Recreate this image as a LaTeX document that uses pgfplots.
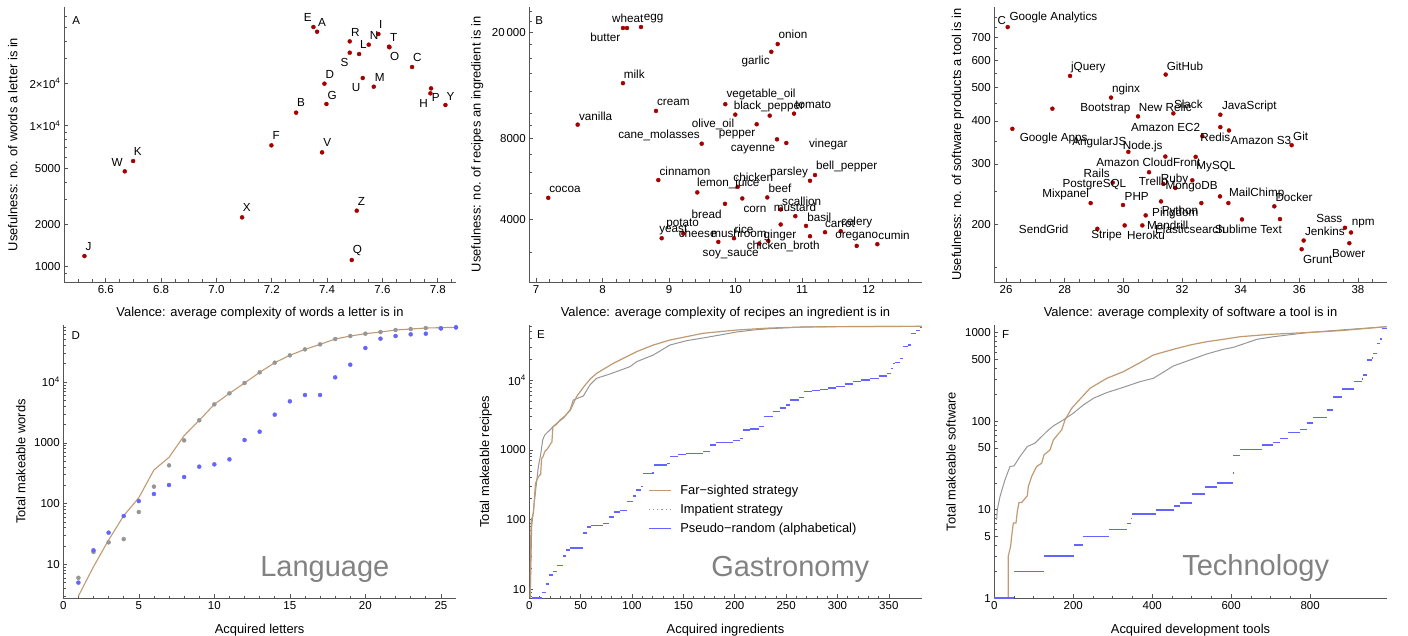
\documentclass[border=0pt]{standalone}
\usepackage{fontspec}
\setmainfont{Liberation Sans}
\usepackage{pgfplots}
\usepackage{pgfplotstable}
\pgfplotsset{compat=1.18}

\definecolor{dotred}{RGB}{165,0,0}
\definecolor{farc}{RGB}{192,154,114}
\definecolor{impc}{RGB}{150,150,150}
\definecolor{rndc}{RGB}{100,100,255}
\definecolor{axc}{RGB}{85,85,85}
\definecolor{wmc}{RGB}{130,130,130}

\newcommand\tickfont{\fontsize{11.5}{13}\selectfont}
\newcommand\labfont{\fontsize{12.9}{14.5}\selectfont}
\newcommand\ptfont{\fontsize{11.7}{13}\selectfont}
\newcommand\wmfont{\fontsize{29}{32}\selectfont}

% ---- A: letters (valence, usefulness, label offset in pt)
\pgfplotstableread{
x y dx dy label
7.3506 50100 -5.7 9.3 E
7.3639 46400 5.0 9.7 A
7.4819 39640 5.7 9.3 R
7.5855 44700 2.3 9.7 I
7.5506 37540 5.3 9.0 N
7.6241 36340 4.7 9.3 T
7.6253 36000 5.3 -9.7 O
7.5157 32240 4.3 9.3 L
7.4819 32940 -5.3 -10.0 S
7.7072 26070 5.3 9.3 C
7.3904 19860 5.3 9.0 D
7.5289 21780 -6.7 -9.7 U
7.5687 18900 6.0 9.0 M
7.3976 14250 5.7 9.0 G
7.7759 18400 4.7 -9.3 P
7.7735 16960 -6.7 -10.3 H
7.8277 14020 5.0 9.0 Y
7.2880 12370 5.0 9.7 B
7.1988 7252 4.7 10.0 F
7.3819 6470 5.3 9.7 V
6.6988 5616 4.7 9.3 K
6.6687 4745 -7.7 9.3 W
7.0928 2238 4.7 9.7 X
7.5072 2496 4.7 9.3 Z
6.5229 1190 4.0 9.3 J
7.4892 1115 5.7 9.3 Q
}\letters

% ---- B: ingredients
\pgfplotstableread{
x y dx dy label
8.3077 20770 -17.7 -9.4 butter
8.3678 20770 0.7 9.3 wheat
8.5782 20950 12.7 8.3 egg
10.633 18090 15.3 9.3 onion
10.5367 16925 -15.6 -10.0 garlic
8.3077 12915 11.3 9.3 milk
8.8037 10167 17.3 9.0 cream
9.8453 10772 35.7 9.3 vegetable\_oil
9.9956 9847 -22.3 -10.3 olive\_oil
10.5127 9762 -0.7 8.7 black\_pepper
10.878 9934 19.3 8.7 tomato
10.317 9064 -19.7 -10.0 pepper
10.6223 7962 -24.0 -10.7 cayenne
10.762 7712 42.0 -1.0 vinegar
9.4906 7666 -42.7 8.7 cane\_molasses
7.6268 9033 18.0 8.7 vanilla
7.1849 4808 16.7 8.7 cocoa
8.8383 5603 26.7 9.0 cinnamon
9.4245 5037 31.0 9.2 lemon\_juice
10.0317 5286 15.6 10.0 chicken
10.1008 4782 12.7 -11.0 corn
10.4766 4824 12.7 9.0 beef
9.8408 4564 -18.3 -10.3 bread
11.1185 5568 -21.0 8.0 parsley
11.1936 5850 31.7 9.0 bell\_pepper
10.678 4349 21.0 8.6 scallion
10.8975 4105 -0.3 8.7 mustard
11.0584 3775 13.3 9.0 basil
10.678 3821 -0.7 -10.7 ginger
11.1185 3453 -26.7 -10.0 chicken\_broth
11.344 3575 15.0 8.7 carrot
11.58 3606 16.0 8.7 celery
11.8204 3177 0.0 9.7 oregano
12.1301 3224 16.7 8.7 cumin
8.8894 3394 11.6 8.0 yeast
9.2141 3535 -0.6 9.3 potato
9.7402 3288 -20.6 8.4 cheese
9.9762 3394 5.0 5.3 mushroom
10.4917 3316 -24.3 11.7 rice
10.3564 3243 -28.6 -11.0 soy\_sauce
}\ingredients

% ---- C: development tools
\pgfplotstableread{
x y dx dy label
26.057 750.8 45.7 9.7 {Google Analytics}
28.182 541.2 18.3 8.7 jQuery
31.443 546.1 19.3 8.7 GitHub
29.580 467.9 15.0 8.3 nginx
27.580 434.5 53.0 -0.3 Bootstrap
26.216 379.7 41.3 -10.0 {Google Apps}
30.500 412.6 27.3 9.0 {New Relic}
31.705 421.0 15.0 9.3 Slack
33.307 417.3 29.0 8.7 JavaScript
33.307 384.0 -54.7 0.0 {Amazon EC2}
33.602 375.5 32.0 -10.3 {Amazon S3}
32.693 361.4 13.0 -0.7 Redis
35.739 340.2 9.0 9.0 Git
30.170 325.3 -29.0 9.0 AngularJS
31.432 315.3 -22.7 9.7 Node.js
32.466 314.6 -47.3 -6.0 {Amazon CloudFront}
33.295 241.4 -4.0 29.3 MySQL
33.580 230.8 28.3 9.3 MailChimp
30.875 283.8 -52.3 -0.7 Rails
29.636 264.7 -18.3 -2.0 PostgreSQL
32.352 268.9 -17.7 1.0 Ruby
31.364 262.4 -10.0 3.0 Trello
31.773 255.4 16.3 1.0 MongoDB
28.886 230.8 -25.0 9.0 Mixpanel
29.989 227.8 13.7 9.0 PHP
35.148 225.8 19.7 9.0 Docker
29.114 194.3 -53.7 -0.7 SendGrid
30.045 198.7 -18.0 -9.7 Stripe
30.648 198.7 3.7 -9.7 Heroku
30.761 212.5 22.0 -10.0 Mandrill
31.284 233.4 14.3 -11.7 Pingdom
32.659 230.8 -21.3 -8.3 Python
34.045 206.8 -52.0 -10.0 Elasticsearch
35.341 207.3 -31.7 -10.3 {Sublime Text}
37.557 195.6 -15.7 9.7 Sass
37.761 189.5 12.3 8.7 npm
36.148 179.6 21.3 9.3 Jenkins
36.080 169.4 16.0 -10.0 Grunt
37.705 176.4 -0.7 -10.7 Bower
}\tools

% ---- D: language
\pgfplotstableread{
n far imp rnd
1 3 6 5
2 9.15 16 17
3 25.1 23 33.2
4 63.2 26 62.4
5 125 72.6 110
6 357 190 143.7
7 577 426 202
8 1310 1098 273.6
9 2343 2343 404.8
10 4296 4296 442
11 6517 6517 534.4
12 9640 9640 1112
13 14440 14440 1525
14 20830 20830 2904
15 27510 27510 4814
16 34520 34520 6117
17 41730 41730 6117
18 51080 51080 11950
19 57230 57230 19310
20 62520 62520 36320
21 66590 66590 51720
22 71840 71840 57230
23 74620 74620 60950
24 77500 77500 62520
25 78480 76520 76520
26 79480 79480 79480
}\langdata

% ---- E: gastronomy
\pgfplotstableread{
n y
0.8 7.5
1 10
1.5 60
2 100
3 110
4 125
5 200
6 330
8 390
10 437
11 440
12 760
13 780
15 946
18 1057
21 1247
22 1300
23 2163
26 2300
30 2700
35 3100
40 3750
46 5830
52.6 7935
59 10330
65.5 12590
72 14380
81.8 17540
91.5 20690
104.5 25790
120.7 32140
137 37930
153 42360
169 47320
185.6 50020
201.8 52760
234 56340
266.7 58290
300 59000
382 59600
}\gasfar
\pgfplotstableread{
n y
1 8
2.3 79
5.5 214
8.8 577
11 847
13 1393
15 1641
20 1936
26.6 2413
33 2850
39.6 3750
42.8 5220
52.6 5960
59 8570
65.5 10690
78.5 12330
98 15700
104.5 18540
120.7 23100
137 32140
153 37080
169 40530
185.6 44740
201.8 49430
218 52760
234 55200
266.7 58290
300 59000
382 59600
}\gasimp
\pgfplotstableread{
n y
3 7.5
12 9
16 12
19 16
23 18
27 22
33 30
36 37
40 39
52 64
56 79
60 82
72 88
78 110
82 130
88 135
95 181
101 219
104 267
109 298
111 462
119 472
121 609
134 640
137 802
145 860
153 895
169 946
176 1180
182 1275
198 1360
205 1470
208 1936
215 2000
224 2162
228 3007
237 3548
244 4000
250 4425
254 5220
263 5706
267 6870
275 7100
283 7430
291 7800
299 8110
307 8900
315 9570
323 10100
332 10690
340 11500
348 12590
352 14860
354 17540
356 17950
361 20690
364 30400
369 32140
372 47320
376 52000
380 57000
382 59600
}\gasrnd

% ---- F: technology
\pgfplotstableread{
n y
35.5 1
35.5 3.03
41.4 3.86
43.9 5
48.2 7.07
54.9 7.1
58.3 9.58
62.5 12.1
69.3 12.1
83.6 14.4
86.2 18.3
94.6 23.8
107.3 30.8
120 33.6
125.9 41.7
141.1 47.5
149.5 61.5
170.6 79.8
179.1 103.5
196 140
221.3 186.6
242.5 235.6
284.7 305
326.9 363
369.2 459
403 560
453.6 649
495.9 726
538 791
580 841
622.6 901
698.6 958
749 982
800 1008
876 1054
994 1169
}\techfar
\pgfplotstableread{
n y
5.9 7.7
7.6 10
14.4 14.1
27 21.8
39.7 30.8
50 31.3
65 39.9
83.6 51.8
103 56.5
115.7 64.3
132.6 76.4
149.5 88.5
174.9 103.5
200 123
225.6 152.8
250.9 181.6
284.7 210.4
326.9 241.6
369.2 280
403 305.5
453.6 420.7
495.9 492
538 574.6
580 649
605.7 683.4
665 841
707 901
791.5 1000
876 1072
994 1169
}\techimp
\pgfplotstableread{
n y
0 1
50 2
127 3
202 4
224 5
291 6
337 7
346 8
350 9
409 10
456 11
470 12
500 15
534 18
563 20
604 26
605 41
622 48
677 54
707 57.5
724 64
745 74.5
775 81
791 95
808 110
842 134
859 187
880 232
910 280
931 300
935 333
944 492
956 520
960 585
969 758
977 850
982 1120
994 1169
}\techrnd

\pgfplotsset{
  mypanel/.style={
    scale only axis, width=392.4pt, clip=false,
    axis x line*=bottom, axis y line*=left,
    axis line style={-, axc, line width=0.8pt},
    tick align=inside, major tick length=4pt, minor tick length=2.5pt,
    every tick/.style={axc, line width=0.6pt},
    tick label style={font=\tickfont, text=black},
    every axis label/.append style={font=\labfont},
  },
  mypts/.style={only marks, mark=*, mark size=2pt, color=dotred},
  mylabs/.style={draw=none, mark=none, nodes near coords, point meta=explicit symbolic,
    every node near coord/.append style={anchor=center, text=black, font=\ptfont, inner sep=0pt}},
}

\begin{document}
\begin{tikzpicture}
\path[use as bounding box] (0pt,0pt) rectangle (1408pt,636pt);

% ================= A   (1pt = 0.0036148 in x, 0.0070925 decades in y)
\begin{axis}[mypanel, ymode=log, at={(64pt,354pt)}, anchor=south west, height=275pt, width=392pt,
  xmin=6.449, xmax=7.866, ymin=779, ymax=69500,
  xtick={6.6,6.8,7.0,7.2,7.4,7.6,7.8}, xticklabels={6.6,6.8,7.0,7.2,7.4,7.6,7.8},
  minor xtick={6.45,6.5,...,7.85},
  ytick={1000,2000,5000,10000,20000},
  yticklabels={1000,2000,5000,1×10\textsuperscript{4},2×10\textsuperscript{4}},
  minor ytick={900,3000,4000,6000,7000,8000,9000,30000,40000,50000,60000},
  xlabel={Valence: average complexity of words a letter is in},
  ylabel={Usefulness: no. of words a letter is in},
  xlabel style={at={(axis description cs:0.5,-0.126)}, anchor=base},
  ylabel style={at={(axis description cs:-0.1309,0.5)}, anchor=center},
]
\addplot[mypts] table[x=x, y=y] {\letters};
\addplot[mylabs] table[x expr={\thisrow{x}+\thisrow{dx}*0.0036148},
  y expr={\thisrow{y}*10^(\thisrow{dy}*0.0070925)}, meta=label] {\letters};
\node[font=\tickfont] at (rel axis cs:0.031,0.949) {A};
\end{axis}

% ================= B   (1pt = 0.015028 in x, 0.0037426 decades in y)
\begin{axis}[mypanel, ymode=log, at={(529.3pt,354pt)}, anchor=south west, height=275pt,
  xmin=6.90, xmax=12.797, ymin=2328, ymax=24900,
  xtick={7,8,9,10,11,12}, xticklabels={7,8,9,10,11,12},
  minor xtick={7,7.2,...,12.8},
  ytick={4000,8000,20000}, yticklabels={4000,8000,20\,000},
  minor ytick={3000,5000,6000,7000,9000,10000,12000,14000,16000,18000,22000,24000},
  xlabel={Valence: average complexity of recipes an ingredient is in},
  ylabel={Usefulness: no. of recipes an ingredient is in},
  xlabel style={at={(axis description cs:0.5,-0.126)}, anchor=base},
  ylabel style={at={(axis description cs:-0.1325,0.5)}, anchor=center},
]
\addplot[mypts] table[x=x, y=y] {\ingredients};
\addplot[mylabs] table[x expr={\thisrow{x}+\thisrow{dx}*0.015028},
  y expr={\thisrow{y}*10^(\thisrow{dy}*0.0037426)}, meta=label] {\ingredients};
\node[font=\tickfont] at (rel axis cs:0.025,0.95) {B};
\end{axis}

% ================= C   (1pt = 0.034098 in x, 0.0029107 decades in y)
\begin{axis}[mypanel, ymode=log, at={(994.3pt,354pt)}, anchor=south west, height=275pt,
  xmin=25.60, xmax=38.98, ymin=136, ymax=859,
  xtick={26,28,30,32,34,36,38}, xticklabels={26,28,30,32,34,36,38},
  minor xtick={26,26.5,...,38.5},
  ytick={200,300,400,500,600,700}, yticklabels={200,300,400,500,600,700},
  minor ytick={150,250,350,450,550,650,750,800},
  xlabel={Valence: average complexity of software a tool is in},
  ylabel={Usefulness: no. of software products a tool is in},
  xlabel style={at={(axis description cs:0.5,-0.126)}, anchor=base},
  ylabel style={at={(axis description cs:-0.0933,0.5)}, anchor=center},
]
\addplot[mypts] table[x=x, y=y] {\tools};
\addplot[mylabs] table[x expr={\thisrow{x}+\thisrow{dx}*0.034098},
  y expr={\thisrow{y}*10^(\thisrow{dy}*0.0029107)}, meta=label] {\tools};
\node[font=\tickfont] at (rel axis cs:0.019,0.951) {C};
\end{axis}

% ================= D
\begin{axis}[mypanel, ymode=log, at={(63.3pt,37.7pt)}, anchor=south west, height=273.6pt, width=392.7pt,
  xmin=0, xmax=26, ymin=2.76, ymax=87900,
  xtick={0,5,10,15,20,25}, xticklabels={0,5,10,15,20,25}, minor x tick num=4,
  ytick={10,100,1000,10000}, yticklabels={10,100,1000,10\textsuperscript{4}},
  minor ytick={3,4,5,6,7,8,9,20,30,40,50,60,70,80,90,200,300,400,500,600,700,800,900,
    2000,3000,4000,5000,6000,7000,8000,9000,20000,30000,40000,50000,60000,70000,80000},
  xlabel={Acquired letters}, ylabel={Total makeable words},
  xlabel style={at={(axis description cs:0.5,-0.1305)}, anchor=base},
  ylabel style={at={(axis description cs:-0.1085,0.5)}, anchor=center},
]
\addplot[farc, line width=1.1pt] table[x=n, y=far] {\langdata};
\addplot[only marks, mark=*, mark size=2pt, impc] table[x=n, y=imp] {\langdata};
\addplot[only marks, mark=*, mark size=2pt, rndc] table[x=n, y=rnd] {\langdata};
\node[font=\tickfont] at (rel axis cs:0.032,0.962) {D};
\node[font=\wmfont, text=wmc, anchor=base] at (rel axis cs:0.666,0.079) {Language};
\end{axis}

% ================= E
\begin{axis}[mypanel, ymode=log, at={(529.3pt,37.7pt)}, anchor=south west, height=273.6pt,
  xmin=0, xmax=382, ymin=7.43, ymax=62900,
  xtick={0,50,100,150,200,250,300,350}, xticklabels={0,50,100,150,200,250,300,350},
  minor x tick num=4,
  ytick={10,100,1000,10000}, yticklabels={10,100,1000,10\textsuperscript{4}},
  minor ytick={8,9,20,30,40,50,60,70,80,90,200,300,400,500,600,700,800,900,
    2000,3000,4000,5000,6000,7000,8000,9000,20000,30000,40000,50000,60000},
  xlabel={Acquired ingredients}, ylabel={Total makeable recipes},
  xlabel style={at={(axis description cs:0.5,-0.1305)}, anchor=base},
  ylabel style={at={(axis description cs:-0.1111,0.5)}, anchor=center},
  legend style={at={(rel axis cs:0.295,0.428)}, anchor=north west, draw=none, fill=none,
    font=\labfont, row sep=3.8pt},
  legend cell align=left,
  legend image code/.code={\draw[#1] (0pt,0pt) -- (22pt,0pt); \path (29pt,0pt);},
]
\addplot[impc, line width=1pt, forget plot] table[x=n, y=y] {\gasimp};
\addplot[farc, line width=1.2pt, forget plot] table[x=n, y=y] {\gasfar};
\addplot[rndc, line width=1.6pt, jump mark left, forget plot] table[x=n, y=y] {\gasrnd};
\addlegendimage{farc, line width=1pt}
\addlegendentry{Far−sighted strategy}
\addlegendimage{impc, line width=1.1pt, dash pattern=on 1.2pt off 3pt}
\addlegendentry{Impatient strategy}
\addlegendimage{rndc, line width=1.1pt}
\addlegendentry{Pseudo−random (alphabetical)}
\node[font=\tickfont] at (rel axis cs:0.030,0.965) {E};
\node[font=\wmfont, text=wmc, anchor=base] at (rel axis cs:0.665,0.079) {Gastronomy};
\end{axis}

% ================= F
\begin{axis}[mypanel, ymode=log, at={(994.3pt,37.7pt)}, anchor=south west, height=273.6pt,
  xmin=0, xmax=994, ymin=1, ymax=1231,
  xtick={0,200,400,600,800}, xticklabels={0,200,400,600,800}, minor x tick num=3,
  ytick={1,5,10,50,100,500,1000}, yticklabels={1,5,10,50,100,500,1000},
  minor ytick={2,3,4,6,7,8,9,20,30,40,60,70,80,90,200,300,400,600,700,800,900},
  xlabel={Acquired development tools}, ylabel={Total makeable software},
  xlabel style={at={(axis description cs:0.5,-0.1305)}, anchor=base},
  ylabel style={at={(axis description cs:-0.1103,0.5)}, anchor=center},
]
\addplot[impc, line width=1pt] table[x=n, y=y] {\techimp};
\addplot[farc, line width=1.2pt] table[x=n, y=y] {\techfar};
\addplot[rndc, line width=1.6pt, jump mark left] table[x=n, y=y] {\techrnd};
\node[font=\tickfont] at (rel axis cs:0.029,0.965) {F};
\node[font=\wmfont, text=wmc, anchor=base] at (rel axis cs:0.666,0.085) {Technology};
\end{axis}
\end{tikzpicture}
\end{document}
